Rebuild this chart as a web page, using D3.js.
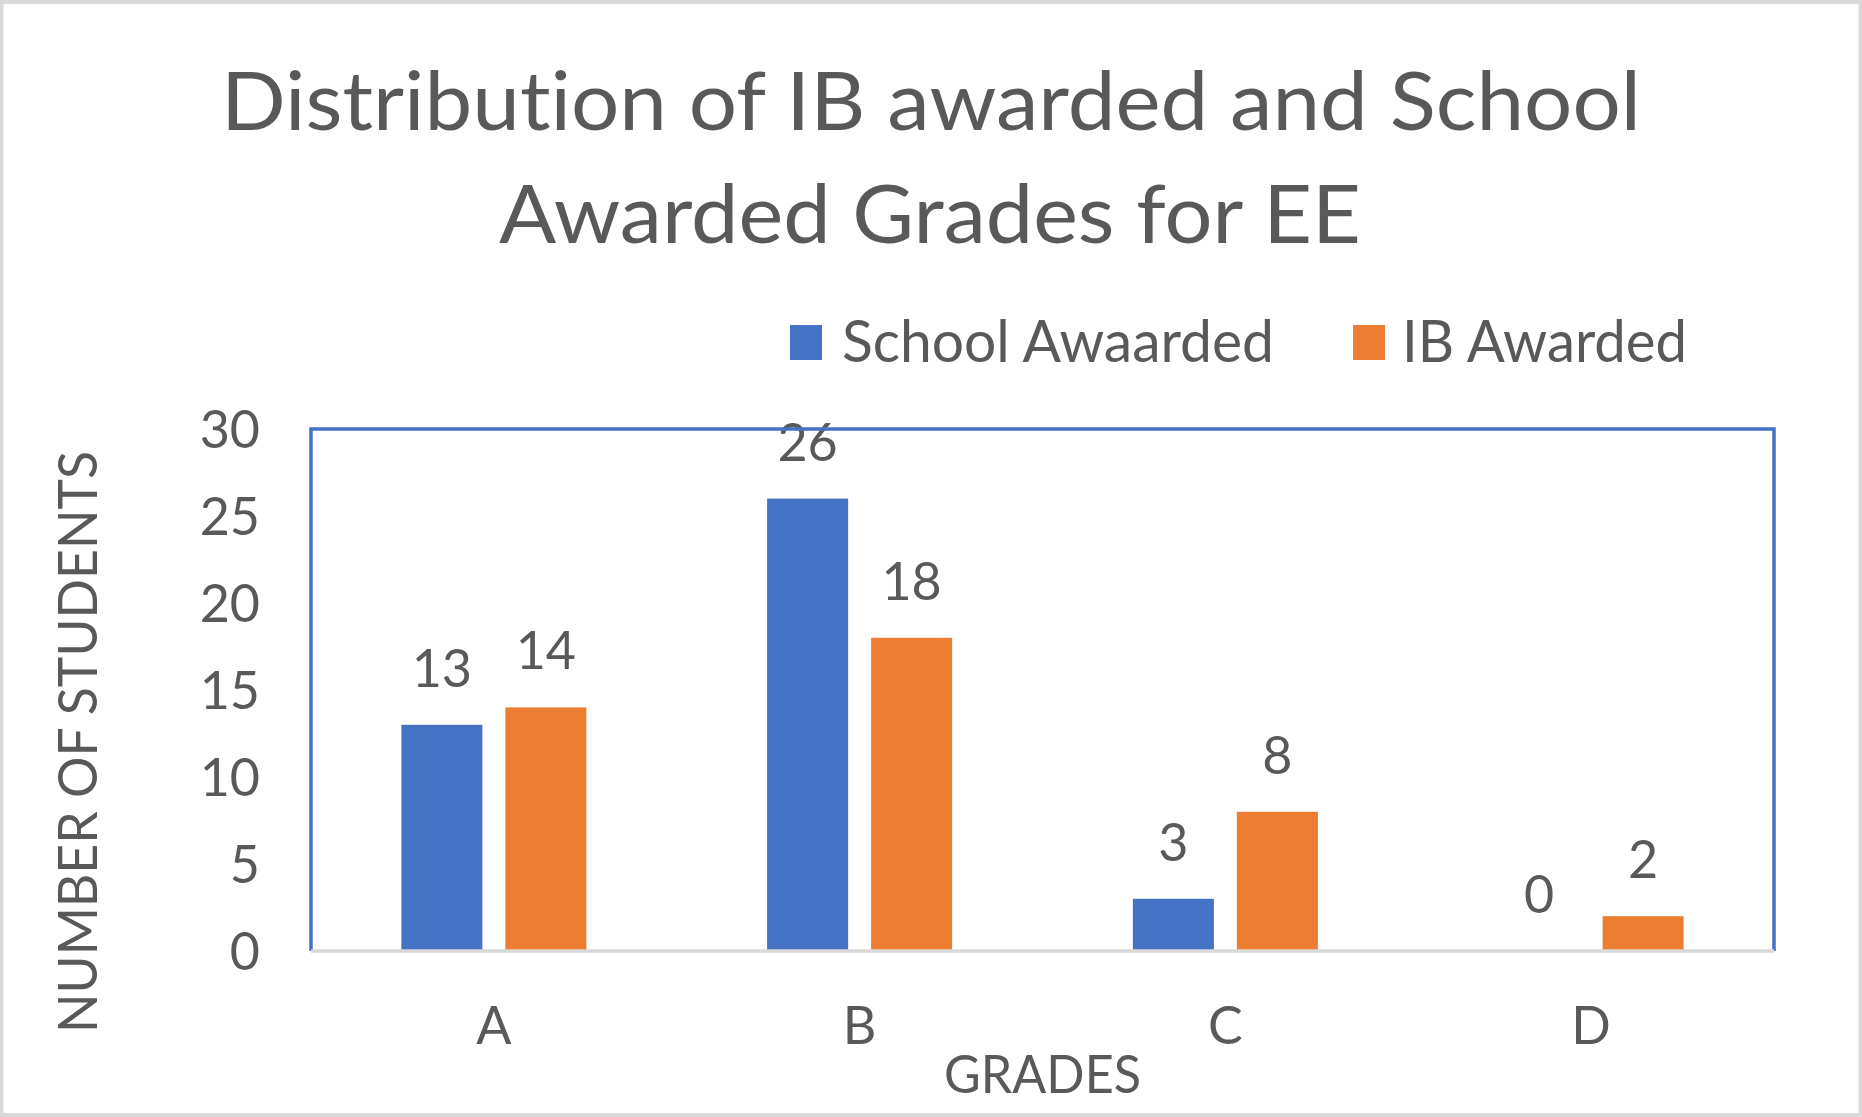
<!DOCTYPE html>
<html>
<head>
<meta charset="utf-8">
<script src="https://cdn.jsdelivr.net/npm/d3@7"></script>
<style>
  body { margin: 0; background: #fff; }
  text { font-family: Lato, "Open Sans", sans-serif; fill: #595959; font-variant-ligatures: none; }
</style>
</head>
<body>
<div id="chart"></div>
<script>
// chart data
var grades = ['A', 'B', 'C', 'D'];
var seriesNames = ['School Awaarded', 'IB Awarded'];
var schoolAwarded = [13, 26, 3, 0];
var ibAwarded = [14, 18, 8, 2];
var yTicks = [0, 5, 10, 15, 20, 25, 30];

var colors = ['#4472C4', '#ED7D31'];

var W = 1862, H = 1117;
var margin = {top: 429, right: 88, bottom: 166, left: 311};
var width = W - margin.left - margin.right,
    height = H - margin.top - margin.bottom;

var svg = d3.select('#chart').append('svg')
    .attr('width', W)
    .attr('height', H);

// outer chart border
svg.append('rect')
    .attr('x', 1.5).attr('y', 2)
    .attr('width', W - 3).attr('height', H - 4)
    .attr('fill', '#fff')
    .attr('stroke', '#d9d9d9')
    .attr('stroke-width', 4);

// title
var title = svg.append('text')
    .attr('text-anchor', 'middle')
    .attr('font-size', '82px');
title.append('tspan').attr('x', 931).attr('y', 130)
    .attr('textLength', 1420).attr('lengthAdjust', 'spacingAndGlyphs')
    .text('Distribution of IB awarded and School');
title.append('tspan').attr('x', 930).attr('y', 243)
    .attr('textLength', 862).attr('lengthAdjust', 'spacingAndGlyphs')
    .text('Awarded Grades for EE');

// legend
var legendPos = [{sq: 790, tx: 842, len: 432}, {sq: 1353, tx: 1402, len: 285}];
var legend = svg.selectAll('.legend')
    .data(seriesNames)
    .enter().append('g')
    .attr('class', 'legend');
legend.append('rect')
    .attr('x', function(d, i) { return legendPos[i].sq; })
    .attr('y', 325)
    .attr('width', 32).attr('height', 35)
    .attr('fill', function(d, i) { return colors[i]; });
legend.append('text')
    .attr('x', function(d, i) { return legendPos[i].tx; })
    .attr('y', 362)
    .attr('font-size', '58px')
    .attr('textLength', function(d, i) { return legendPos[i].len; })
    .attr('lengthAdjust', 'spacingAndGlyphs')
    .text(function(d) { return d; });

var g = svg.append('g')
    .attr('transform', 'translate(' + margin.left + ',' + margin.top + ')');

// scales
var x0 = d3.scaleBand().domain(grades).range([0, width]);
var pad = (x0.bandwidth() - 185) / 2;
var x1 = d3.scaleBand().domain([0, 1])
    .range([pad, x0.bandwidth() - pad])
    .paddingInner(0.221);
var y = d3.scaleLinear().domain([0, 30]).range([height, 0]);

var rows = grades.map(function(k, i) {
  return {grade: k, values: [schoolAwarded[i], ibAwarded[i]]};
});

// bars
var groups = g.selectAll('.grade')
    .data(rows)
    .enter().append('g')
    .attr('class', 'grade')
    .attr('transform', function(d) { return 'translate(' + x0(d.grade) + ',0)'; });

groups.selectAll('rect')
    .data(function(d) { return d.values; })
    .enter().append('rect')
    .attr('x', function(d, i) { return x1(i); })
    .attr('y', function(d) { return y(d); })
    .attr('width', x1.bandwidth())
    .attr('height', function(d) { return height - y(d); })
    .attr('fill', function(d, i) { return colors[i]; });

// data labels
groups.selectAll('.lbl')
    .data(function(d) { return d.values; })
    .enter().append('text')
    .attr('class', 'lbl')
    .attr('text-anchor', 'middle')
    .attr('font-size', '52px')
    .attr('x', function(d, i) { return x1(i) + x1.bandwidth() / 2; })
    .attr('y', function(d) { return y(d) - 38; })
    .text(function(d) { return d; });

// y axis labels
var yAxis = g.append('g')
    .call(d3.axisLeft(y).tickValues(yTicks).tickSize(0).tickPadding(51));
yAxis.select('.domain').remove();
yAxis.selectAll('text')
    .attr('font-size', '52px')
    .attr('dy', '0.36em')
    .style('font-family', 'Lato, "Open Sans", sans-serif')
    .attr('fill', '#595959');

// x axis labels
var xAxis = g.append('g')
    .attr('transform', 'translate(0,' + height + ')')
    .call(d3.axisBottom(x0).tickSize(0).tickPadding(56));
xAxis.select('.domain').remove();
xAxis.selectAll('text')
    .attr('font-size', '52px')
    .attr('dy', '0.71em')
    .style('font-family', 'Lato, "Open Sans", sans-serif')
    .attr('fill', '#595959');

// plot border: blue top, left, right; grey baseline
g.append('path')
    .attr('d', 'M0,' + height + 'V0H' + width + 'V' + height)
    .attr('fill', 'none')
    .attr('stroke', '#4472C4')
    .attr('stroke-width', 3.5);
g.append('line')
    .attr('x1', 0).attr('x2', width)
    .attr('y1', height).attr('y2', height)
    .attr('stroke', '#d9d9d9')
    .attr('stroke-width', 3.5);

// axis titles
svg.append('text')
    .attr('x', margin.left + width / 2)
    .attr('y', 1093)
    .attr('text-anchor', 'middle')
    .attr('font-size', '53px')
    .attr('textLength', 197).attr('lengthAdjust', 'spacingAndGlyphs')
    .text('GRADES');

svg.append('text')
    .attr('transform', 'translate(97,742) rotate(-90)')
    .attr('text-anchor', 'middle')
    .attr('font-size', '55px')
    .attr('textLength', 582).attr('lengthAdjust', 'spacingAndGlyphs')
    .text('NUMBER OF STUDENTS');
</script>
</body>
</html>
